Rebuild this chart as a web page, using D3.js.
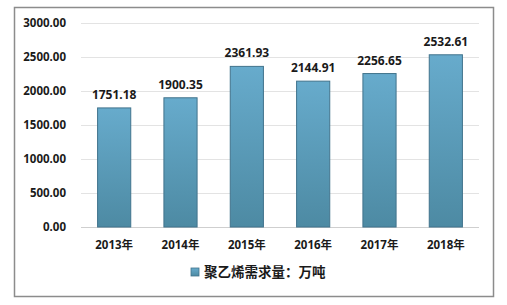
<!DOCTYPE html>
<html>
<head>
<meta charset="utf-8">
<script src="https://cdn.jsdelivr.net/npm/d3@7"></script>
<style>
  html, body { margin: 0; padding: 0; background: #fff; }
  svg text { font-family: "Noto Sans", "Noto Sans CJK SC", sans-serif; font-weight: bold; fill: #1a1a1a; }
</style>
</head>
<body>
<svg id="chart" width="507" height="305"></svg>
<script>
var years = ['2013年', '2014年', '2015年', '2016年', '2017年', '2018年'];
var demand = [1751.18, 1900.35, 2361.93, 2144.91, 2256.65, 2532.61];
var yTicks = [0, 500, 1000, 1500, 2000, 2500, 3000];
var legendLabel = '聚乙烯需求量：万吨';

var svg = d3.select('#chart');
var margin = {left: 81, right: 28, top: 23, bottom: 78};
var width = 507 - margin.left - margin.right;
var height = 305 - margin.top - margin.bottom;

// frame
svg.append('rect')
  .attr('x', 14.5).attr('y', 7.5)
  .attr('width', 479).attr('height', 289)
  .attr('fill', 'none')
  .attr('stroke', '#8c8c8c')
  .attr('stroke-width', 1.5);

var defs = svg.append('defs');
var grad = defs.append('linearGradient')
  .attr('id', 'barGrad')
  .attr('x1', 0).attr('y1', 0).attr('x2', 0).attr('y2', 1);
grad.append('stop').attr('offset', '0%').attr('stop-color', '#67abcc');
grad.append('stop').attr('offset', '100%').attr('stop-color', '#4d8aa3');

var g = svg.append('g').attr('transform', 'translate(' + margin.left + ',' + margin.top + ')');

var x = d3.scaleBand().domain(years).range([0, width])
  .paddingInner(0.5).paddingOuter(0.25);
var y = d3.scaleLinear().domain([0, 3000]).range([height, 0]);

// gridlines
g.selectAll('.grid')
  .data(yTicks)
  .enter()
  .append('line')
  .attr('x1', 0).attr('x2', width)
  .attr('y1', function(d) { return Math.round(y(d)) + 0.5; })
  .attr('y2', function(d) { return Math.round(y(d)) + 0.5; })
  .attr('stroke', function(d) { return d === 0 ? '#cfcfcf' : '#e3e3e3'; })
  .attr('stroke-width', 1);

// y labels
g.selectAll('.ylab')
  .data(yTicks)
  .enter()
  .append('text')
  .attr('x', -15)
  .attr('y', function(d) { return y(d); })
  .attr('dy', '0.35em')
  .attr('text-anchor', 'end')
  .attr('font-size', 11.5)
  .text(function(d) { return d3.format('.2f')(d); });

// bars
g.selectAll('.bar')
  .data(demand)
  .enter()
  .append('rect')
  .attr('x', function(d, i) { return x(years[i]); })
  .attr('y', function(d) { return y(d); })
  .attr('width', x.bandwidth())
  .attr('height', function(d) { return height - y(d); })
  .attr('fill', 'url(#barGrad)')
  .attr('stroke', '#41738c')
  .attr('stroke-width', 1);

// value labels
g.selectAll('.vlab')
  .data(demand)
  .enter()
  .append('text')
  .attr('x', function(d, i) { return x(years[i]) + x.bandwidth() / 2; })
  .attr('y', function(d) { return y(d) - 9; })
  .attr('text-anchor', 'middle')
  .attr('font-size', 12)
  .text(function(d) { return d3.format('.2f')(d); });

// x labels
g.selectAll('.xlab')
  .data(years)
  .enter()
  .append('text')
  .attr('x', function(d) { return x(d) + x.bandwidth() / 2; })
  .attr('y', height + 22)
  .attr('text-anchor', 'middle')
  .attr('font-size', 11.5)
  .text(function(d) { return d; });

// legend
var lg = svg.append('g').attr('transform', 'translate(191,268)');
lg.append('rect')
  .attr('x', 0).attr('y', 0)
  .attr('width', 8).attr('height', 8)
  .attr('fill', 'url(#barGrad)')
  .attr('stroke', '#41738c')
  .attr('stroke-width', 0.8);
lg.append('text')
  .attr('x', 13).attr('y', 4)
  .attr('dy', '0.38em')
  .attr('font-size', 13.5)
  .attr('font-weight', 'normal')
  .text(legendLabel);
</script>
</body>
</html>
